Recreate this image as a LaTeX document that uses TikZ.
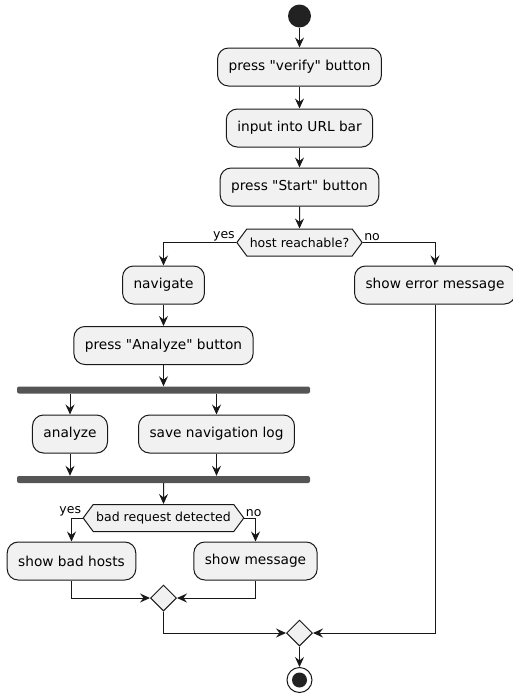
\documentclass[tikz,border=0pt]{standalone}
\usepackage{fontspec}
\setmainfont{DejaVu Sans}[Ligatures=TeXOff]
\usetikzlibrary{arrows.meta,shapes.geometric,shapes.symbols}
\definecolor{actfill}{HTML}{F1F1F1}
\definecolor{actline}{HTML}{181818}
\definecolor{barfill}{HTML}{555555}
\definecolor{dotfill}{HTML}{222222}
\tikzset{
  act/.style={draw=actline, fill=actfill, line width=1pt, rounded corners=11pt, minimum height=38pt, inner xsep=11pt, font=\fontsize{13.7}{16}\selectfont},
  cond/.style={draw=actline, fill=actfill, line width=1pt, shape=signal, signal to=east and west, signal pointer angle=107, minimum height=27pt, inner xsep=3pt, font=\fontsize{12.5}{14}\selectfont},
  bar/.style={fill=barfill, rounded corners=2pt, minimum height=7pt, minimum width=293pt, inner sep=0pt},
  merge/.style={draw=actline, fill=actfill, line width=1pt, diamond, minimum size=26pt, inner sep=0pt},
  flow/.style={draw=actline, line width=1pt, -{Stealth[length=10pt,width=9pt,inset=3.5pt]}},
  lbl/.style={font=\fontsize{12.5}{14}\selectfont, inner sep=1pt},
}
\begin{document}
\begin{tikzpicture}[x=1pt,y=-1pt]
    \useasboundingbox (0,0) rectangle (512,696);
    \node[circle, fill=dotfill, minimum size=23pt, inner sep=0pt] (start) at (299.5,16) {};
    \node[act] (verify) at (299.5,67) {press "verify" button};
    \node[act] (urlbar) at (299.5,128) {input into URL bar};
    \node[act] (startbtn) at (299.5,187) {press "Start" button};
    \node[cond] (reach) at (299.5,242.5) {host reachable?};
    \node[act] (navigate) at (163.5,285) {navigate};
    \node[act] (errmsg) at (435,285) {show error message};
    \node[act] (analyzebtn) at (163.5,345.5) {press "Analyze" button};
    \node[bar] (fork) at (163.5,390) {};
    \node[act] (analyze) at (70,434) {analyze};
    \node[act] (savelog) at (216.5,434) {save navigation log};
    \node[bar] (join) at (163.5,479.5) {};
    \node[cond] (badreq) at (163.5,518) {bad request detected};
    \node[act] (badhosts) at (71.5,561) {show bad hosts};
    \node[act] (showmsg) at (255.5,561) {show message};
    \node[merge] (merge1) at (163.5,598) {};
    \node[merge] (merge2) at (299.5,633) {};
    \node[circle, draw=actline, line width=1pt, minimum size=25pt, inner sep=0pt] (stop) at (299.5,680) {};
    \fill[dotfill] (stop) circle (7.5pt);

    \draw[flow] (start) -- (verify);
    \draw[flow] (verify) -- (urlbar);
    \draw[flow] (urlbar) -- (startbtn);
    \draw[flow] (startbtn) -- (reach);
    \draw[flow] (reach.west) node[lbl, above left] {yes} -| (navigate.north);
    \draw[flow] (reach.east) node[lbl, above right] {no} -| (errmsg.north);
    \draw[flow] (navigate) -- (analyzebtn);
    \draw[flow] (analyzebtn) -- (fork);
    \draw[flow] (fork.south -| analyze) -- (analyze);
    \draw[flow] (fork.south -| savelog) -- (savelog);
    \draw[flow] (analyze) -- (analyze |- join.north);
    \draw[flow] (savelog) -- (savelog |- join.north);
    \draw[flow] (join) -- (badreq);
    \draw[flow] (badreq.west) node[lbl, above left] {yes} -| (badhosts.north);
    \draw[flow] (badreq.east) node[lbl, above right] {no} -| (showmsg.north);
    \draw[flow] (badhosts.south) |- (merge1.west);
    \draw[flow] (showmsg.south) |- (merge1.east);
    \draw[flow] (merge1.south) |- (merge2.west);
    \draw[flow] (errmsg.south) |- (merge2.east);
    \draw[flow] (merge2) -- (stop);
\end{tikzpicture}
\end{document}
